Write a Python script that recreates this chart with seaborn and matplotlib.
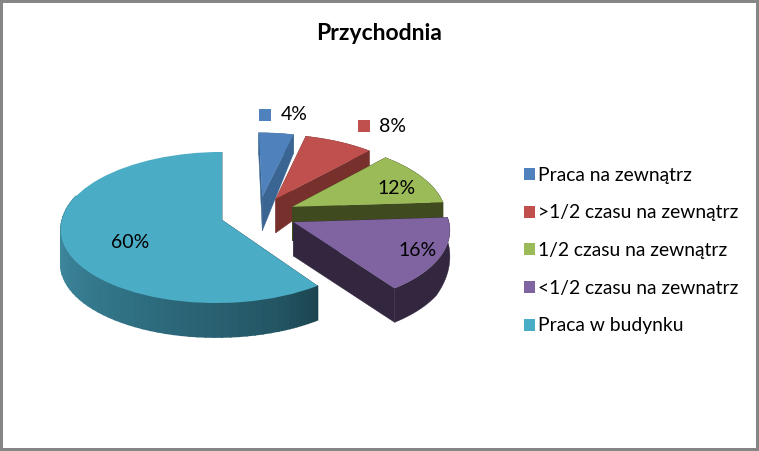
import numpy as np
import matplotlib
matplotlib.use('Agg')
import matplotlib.pyplot as plt
import seaborn as sns
from matplotlib.path import Path
from matplotlib.transforms import Transform

# chart data
title = 'Przychodnia'
categories = ['Praca na zewnątrz', '>1/2 czasu na zewnątrz', '1/2 czasu na zewnątrz',
              '<1/2 czasu na zewnatrz', 'Praca w budynku']
values = [4, 8, 12, 16, 60]

# styles
top_colors = ['#4f81bd', '#c0504d', '#9bbb59', '#8064a2', '#4bacc6']
side_colors = ['#3a6491', '#78302d', '#404a1f', '#33263f', '#1f4a56']
rim_stops = ['#4797ad', '#2f6f82', '#1c4450']
label_pos = [(294, 115), (393, 126), (397, 189), (418, 251), (130, 243)]
key_offset = 29

# flat pie -> screen pixels, camera tilted so the far side comes out smaller
ORIGIN_PX = (222, 220)
RX, RY, PERSP, PERSP_X, SKEW = 158, 74.8, 0.0993, 0.01, 6


def project(x, y, origin):
    dx, dy = x - origin[0], y - origin[1]
    den = 1 + PERSP * dy
    sx = ORIGIN_PX[0] + RX * dx / (den + PERSP_X * dx) + SKEW * np.minimum(dy, 0)
    return sx, ORIGIN_PX[1] - RY * dy / den


def wall_depth(x, y, origin):
    dx, dy = x - origin[0], y - origin[1]
    return np.minimum(34, 46 - 15 * dx - 15 * dy)


class PieProjection(Transform):
    input_dims = 2
    output_dims = 2

    def __init__(self, origin):
        super().__init__()
        self.origin = origin

    def transform_non_affine(self, values):
        px, py = project(values[:, 0], values[:, 1], self.origin)
        return np.column_stack([px, py])

    def transform_path_non_affine(self, path):
        return Path(self.transform_non_affine(path.vertices), path.codes)


sns.set_theme(style='white')
plt.rcParams['font.family'] = ['Lato', 'DejaVu Sans']

fig = plt.figure(figsize=(7.59, 4.51), dpi=100)
fig.patch.set_facecolor('white')
fig.patch.set_edgecolor('#868686')
fig.patch.set_linewidth(3)
ax = fig.add_axes([0, 0, 1, 1])

wedges, _ = ax.pie(values, explode=[0.245] * len(values), startangle=90, counterclock=False,
                   colors=sns.color_palette(top_colors), wedgeprops={'linewidth': 0})
ax.set_aspect('auto')
ax.set_xlim(0, 759)
ax.set_ylim(451, 0)
origin = wedges[-1].center
to_screen = PieProjection(origin) + ax.transData

# walls first, then the top of each slice; nearer slices go on top
draw_order = [4, 0, 1, 2, 3]
for level, i in enumerate(draw_order):
    w = wedges[i]
    base = 5 + level * 5
    cx, cy = w.center
    angles = np.radians(np.linspace(w.theta1, w.theta2, 160))
    ax_x = cx + np.cos(angles)
    ax_y = cy + np.sin(angles)
    px, py = project(ax_x, ax_y, origin)
    drop = wall_depth(ax_x, ax_y, origin)
    apex_x, apex_y = project(cx, cy, origin)
    apex_drop = wall_depth(cx, cy, origin)

    # cut faces
    for j in (0, -1):
        ax.fill([apex_x, px[j], px[j], apex_x],
                [apex_y, py[j], py[j] + drop[j], apex_y + apex_drop],
                color=side_colors[i], lw=0.3, zorder=base)

    # outer wall
    if i == 4:
        front = np.where(np.degrees(angles) >= -200)[0]
        segs = np.array_split(front, 60)
        shades = sns.blend_palette(rim_stops, n_colors=len(segs))
        for seg, shade in zip(segs, shades):
            a, b = seg[0], min(seg[-1] + 1, len(px) - 1)
            ax.fill([px[a], px[b], px[b], px[a]],
                    [py[a], py[b], py[b] + drop[b], py[a] + drop[a]],
                    color=shade, lw=1.2, zorder=base + 1)
    else:
        ax.fill(np.r_[px, px[::-1]], np.r_[py, (py + drop)[::-1]],
                color=side_colors[i], lw=0.3, zorder=base + 1)

    w.set_transform(to_screen)
    w.set_zorder(base + 2)

# data labels, each with its little colour key
for v, (lx, ly), c in zip(values, label_pos, top_colors):
    ax.text(lx, ly, f'{v}%', fontsize=14, color='black', ha='center', va='center', zorder=60)
    ax.plot(lx - key_offset, ly, marker='s', ms=8.3, color=c, mew=0, zorder=59)

ax.text(379, 33, title, fontsize=16.5, fontweight='bold', color='black', ha='center', va='center')

leg = ax.legend(wedges, categories, loc='upper left', bbox_to_anchor=(518 / 759, 1 - 161 / 451),
                frameon=False, fontsize=13.9, handlelength=0.58, handleheight=0.58,
                handletextpad=0.16, labelspacing=1.07, borderpad=0.3, borderaxespad=0,
                labelcolor='black')

fig.savefig('out.png', dpi=100)
